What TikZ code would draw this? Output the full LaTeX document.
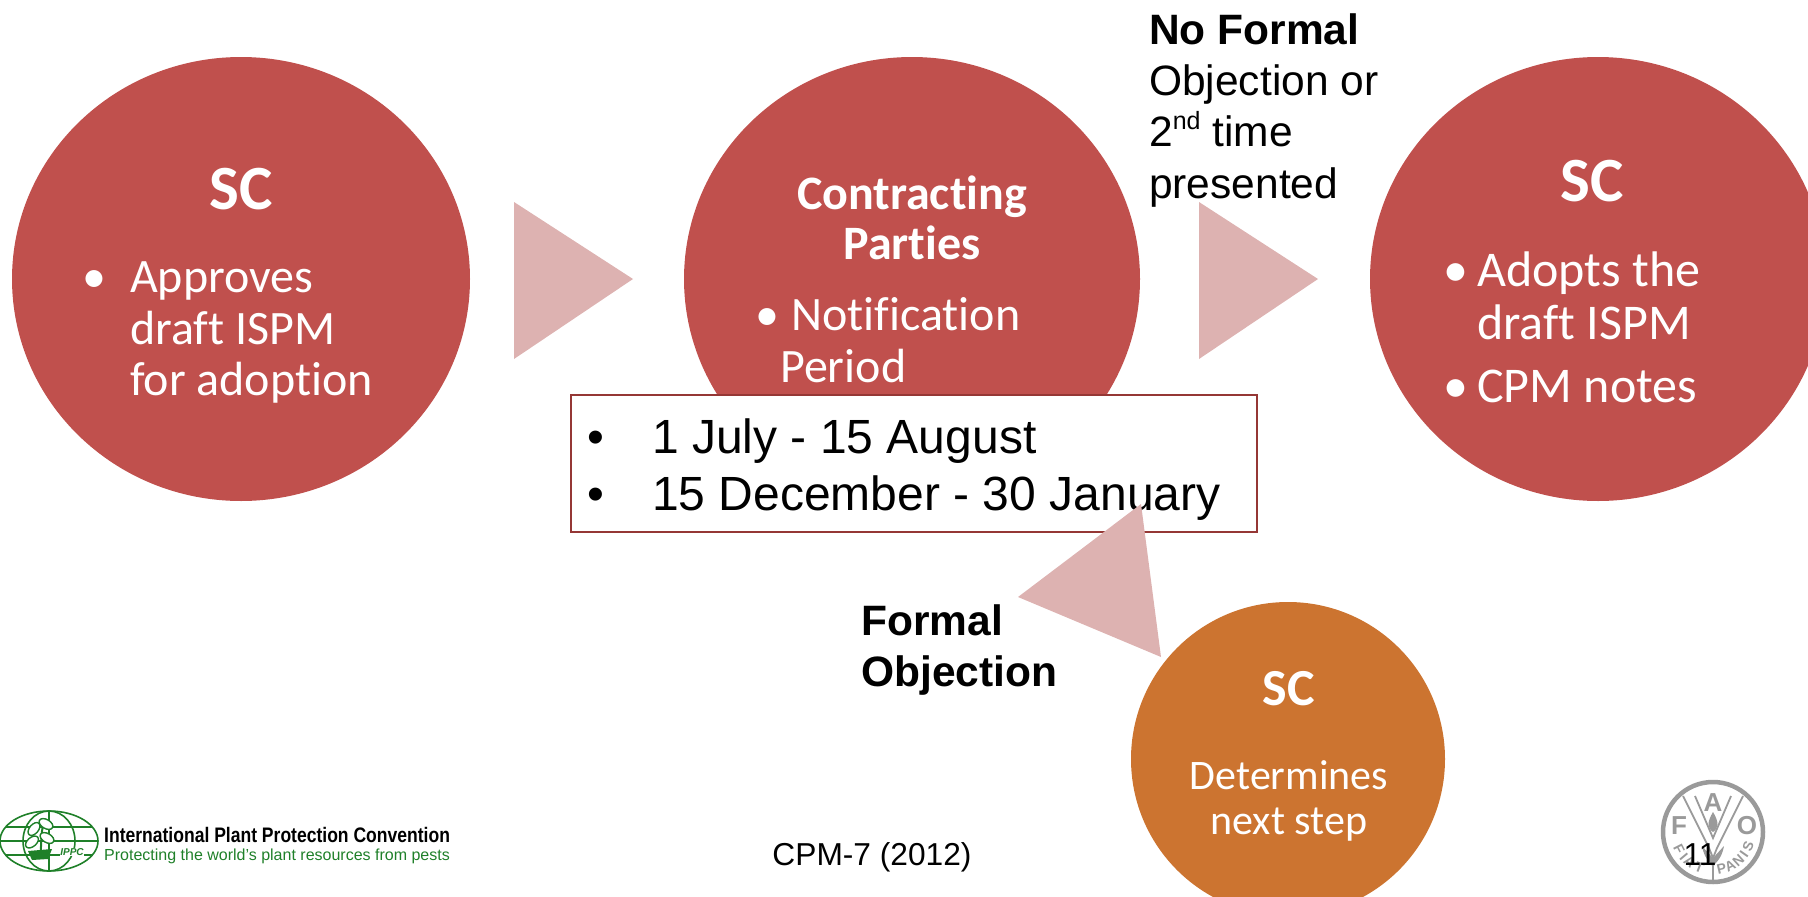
\documentclass[tikz,border=0pt]{standalone}
\usepackage{fontspec}
\setmainfont{Liberation Sans}
\newfontfamily\calfont[Ligatures=NoCommon]{Carlito}
\usetikzlibrary{calc,shapes.geometric}
\definecolor{redc}{HTML}{C0504D}
\definecolor{orangec}{HTML}{CC7430}
\definecolor{pinkc}{HTML}{DDB2B1}
\definecolor{boxc}{HTML}{953735}
\definecolor{ippc}{HTML}{1F8029}
\definecolor{faoc}{HTML}{9A9A9A}
\newcommand{\fsz}[1]{\fontsize{#1}{#1}\selectfont}
\tikzset{
  redcirc/.style={fill=redc},
  orcirc/.style={fill=orangec},
  tri/.style={fill=pinkc},
  head/.style={text=white, inner sep=0pt, font=\calfont\bfseries\fsz{63}, anchor=base},
  subhead/.style={text=white, inner sep=0pt, font=\calfont\bfseries\fsz{48}, anchor=base},
  body/.style={text=white, inner sep=0pt, font=\calfont\fsz{48}, anchor=base west},
  bodyc/.style={text=white, inner sep=0pt, font=\calfont\fsz{42}, anchor=base},
  lbl/.style={text=black, inner sep=0pt, font=\fsz{42.5}, anchor=base west},
  blbl/.style={text=black, inner sep=0pt, font=\bfseries\fsz{42.5}, anchor=base west},
  dates/.style={text=black, inner sep=0pt, font=\fsz{48}, anchor=base west},
  ipline/.style={draw=ippc, line width=1.6pt},
  leaf/.style={draw=ippc, fill=white, line width=1.4pt, ellipse, minimum width=15pt, minimum height=9pt, inner sep=0pt},
  fao/.style={text=faoc, font=\bfseries\fsz{26}},
  faosm/.style={text=faoc, inner sep=0pt, font=\bfseries\fsz{14}}
}

\begin{document}
\begin{tikzpicture}[x=1pt,y=-1pt]
  \useasboundingbox (0,0) rectangle (1808,897);
  \clip (0,0) rectangle (1808,897);

  % circles
  \fill[redcirc] (241,279) ellipse (229 and 222);
  \fill[redcirc] (912,279) ellipse (228 and 222);
  \fill[redcirc] (1598,279) ellipse (228 and 222);
  \fill[orcirc] (1288,759) ellipse (157 and 157);

  % left circle
  \node[head] (sca) at (241,209) {SC};
  \node[body] (scab) at (82,292) {•};
  \node[body] (scal) at (130,292) {Approves};
  \node[body] (scam) at (130,344) {draft ISPM};
  \node[body] (scan) at (130,395) {for adoption};

  % middle circle
  \node[subhead] (cpa) at (912,209) {Contracting};
  \node[subhead] (cpb) at (912,259) {Parties};
  \node[body] (cpc) at (755,330) {•};
  \node[body] (cpd) at (791,330) {Notification};
  \node[body] (cpe) at (780,382) {Period};

  % right circle
  \node[head] (scb) at (1592,201) {SC};
  \node[body, font=\calfont\fsz{50}] (scc) at (1443,286) {•};
  \node[body, font=\calfont\fsz{50}] (scd) at (1477,286) {Adopts the};
  \node[body, font=\calfont\fsz{50}] (sce) at (1477,339) {draft ISPM};
  \node[body, font=\calfont\fsz{50}] (scf) at (1443,402) {•};
  \node[body, font=\calfont\fsz{50}] (scg) at (1477,402) {CPM notes};

  % lower circle
  \node[subhead, font=\calfont\bfseries\fsz{52}] (sch) at (1289,705) {SC};
  \node[bodyc] (sci) at (1289,789) {Determines};
  \node[bodyc] (scj) at (1289,834) {next step};

  % labels
  \node[blbl] (nfa) at (1149,44) {No Formal};
  \node[lbl] (nfb) at (1149,95) {Objection or};
  \node[lbl] (nfc) at (1149,146) {2\raisebox{0.38em}{\fsz{25}nd} time};
  \node[lbl] (nfd) at (1149,198) {presented};
  \node[blbl] (foa) at (861,635) {Formal};
  \node[blbl] (fob) at (861,686) {Objection};

  % date box
  \draw[boxc, line width=1.5pt, fill=white] (571,395) rectangle (1257,532);
  \node[dates] (dta) at (587,453) {•};
  \node[dates] (dtb) at (652,453) {1 July - 15 August};
  \node[dates] (dtc) at (587,510) {•};
  \node[dates] (dtd) at (652,510) {15 December - 30 January};

  % triangles
  \fill[tri] (514,202)--(633,279)--(514,359)--cycle;
  \fill[tri] (1199,202)--(1318,279)--(1199,359)--cycle;
  \fill[tri] (1141,504)--(1161,657)--(1018,597)--cycle;

  % ippc logo
  \coordinate (ip) at (49,841);
  \begin{scope}
    \clip (0,805) rectangle (100,880);
    \draw[ipline] (ip) ellipse (49 and 30);
    \draw[ipline] (ip) ellipse (26 and 30);
    \draw[ipline] (ip) ++(0,-30)--++(0,60);
    \draw[ipline] (ip) ++(-43,-14)--++(86,0);
    \draw[ipline] (ip) ++(-49,0)--++(98,0);
    \draw[ipline] (ip) ++(-43,14)--++(86,0);
  \end{scope}
  \draw[ippc, line width=2pt] (40,858)..controls (42,845) and (40,835)..(44,822);
  \node[leaf, rotate=50] (lfa) at (34,829) {};
  \node[leaf, rotate=-30] (lfb) at (46,824) {};
  \node[leaf, rotate=-30] (lfd) at (47,838) {};
  \node[leaf, rotate=40] (lfe) at (32,842) {};
  \fill[ippc] (28,851)--(52,849)--(48,859)--(32,860)--cycle;
  \node[text=ippc, font=\bfseries\itshape\fsz{10}, fill=white, inner sep=0.5pt] (ipt) at (72,852) {IPPC};
  \node[text=black, inner sep=0pt, font=\bfseries\fsz{21}, xscale=0.835, anchor=base west] (ipa) at (104,842) {International Plant Protection Convention};
  \node[text=ippc, inner sep=0pt, font=\fsz{16}, anchor=base west] (ipb) at (104,860) {Protecting the world’s plant resources from pests};

  % fao logo
  \coordinate (fo) at (1713,832);
  \draw[faoc, line width=4.5pt] (fo) circle (50);
  \node[fao] (foF) at (1679,826) {F};
  \node[fao] (foA) at (1713,803) {A};
  \node[fao] (foO) at (1747,826) {O};
  \draw[faoc, line width=1.8pt] (1683,796)--(1709,848)--(1713,858);
  \draw[faoc, line width=1.8pt] (1743,796)--(1717,848)--(1713,858);
  \draw[faoc, line width=1.8pt] (1695,796)--(1713,838)--(1731,796);
  \draw[faoc, line width=2pt] (1713,858)--(1713,881);
  \fill[faoc] (1713,812)..controls (1707,822) and (1707,828)..(1713,832)..controls (1719,828) and (1719,822)..(1713,812);
  \fill[faoc] (1702,846)..controls (1705,862) and (1712,862)..(1713,868)..controls (1714,862) and (1721,862)..(1724,846)--(1713,858)--cycle;
  \foreach \ch/\ang in {F/207,I/220,A/232,T/249,P/283,A/297,N/312,I/325,S/338}{
    \node[faosm, rotate=\ang+90] (ft\ang) at ($(fo)+(\ang:38pt)$) {\ch};
  }

  % footer
  \node[text=black, font=\fsz{31.7}, anchor=base] (cpm) at (872,865) {CPM-7 (2012)};
  \node[text=black, font=\fsz{31.7}, anchor=base] (num) at (1700,865) {11};
\end{tikzpicture}
\end{document}
